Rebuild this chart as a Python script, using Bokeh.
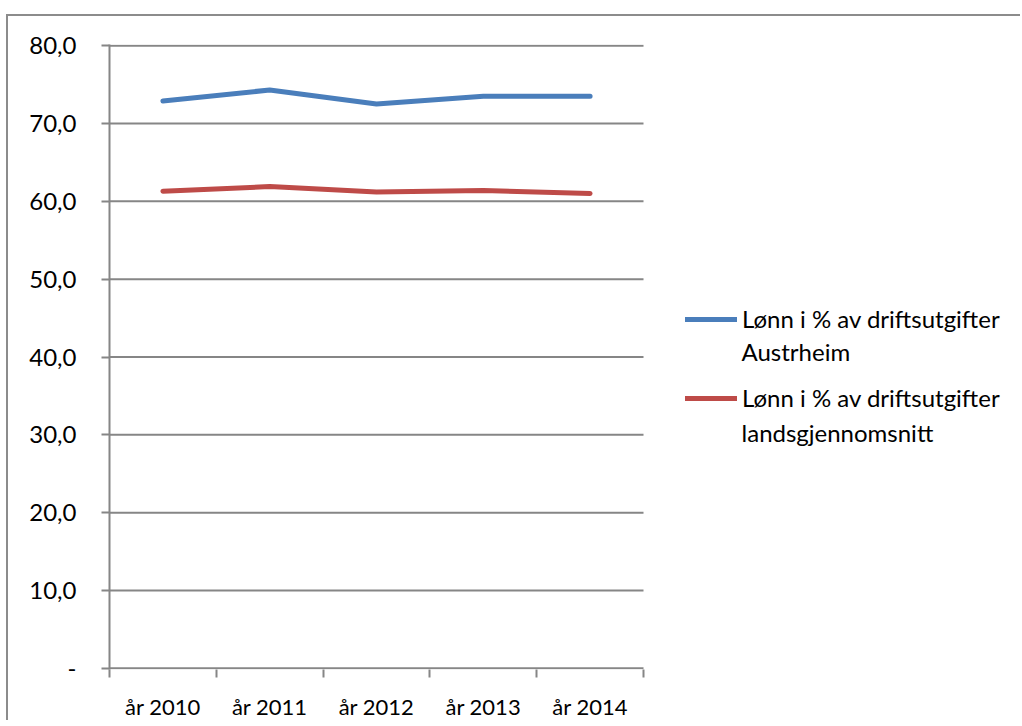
from bokeh.plotting import figure
from bokeh.models import (FixedTicker, Legend, LegendItem, Range1d, Label)
from bokeh.embed import file_html
from bokeh.resources import INLINE

years = ["år 2010", "år 2011", "år 2012", "år 2013", "år 2014"]
austrheim = [72.9, 74.3, 72.5, 73.5, 73.5]
landsgjennomsnitt = [61.3, 61.9, 61.2, 61.4, 61.0]
y_ticks = [0, 10, 20, 30, 40, 50, 60, 70, 80]
y_labels = ["-", "10,0", "20,0", "30,0", "40,0", "50,0", "60,0", "70,0", "80,0"]
legend_first = ["Lønn i % av driftsutgifter", "Lønn i % av driftsutgifter"]
legend_second = ["Austrheim", "landsgjennomsnitt"]

FONT = "Lato"
GRAY = "#868686"
n = len(years)
xs = [i + 0.5 for i in range(n)]

# frame spans the legend area too; data occupies x in [0, n]
p = figure(width=1014, height=706, output_backend="svg", toolbar_location=None,
           x_range=Range1d(0, n * 911 / 534), y_range=Range1d(-0.15, 80.15),
           min_border_left=101, min_border_top=28, min_border_bottom=53,
           min_border_right=2)
p.styles = {"border-left": "2px solid #8c8c8c", "border-top": "2px solid #8c8c8c",
            "margin-top": "14px", "margin-left": "6px"}
p.outline_line_color = None
p.background_fill_color = "white"

# x axis (ticks between categories, labels centred)
p.xaxis.ticker = FixedTicker(ticks=xs, minor_ticks=list(range(n + 1)))
p.xaxis.major_label_overrides = {x: y for x, y in zip(xs, years)}
p.xaxis.major_tick_line_color = None
p.xaxis.minor_tick_line_color = GRAY
p.xaxis.minor_tick_line_width = 2
p.xaxis.minor_tick_in = 0
p.xaxis.minor_tick_out = 8
p.xaxis.axis_line_color = None
p.xaxis.major_label_standoff = 15
p.xaxis.major_label_text_font = FONT
p.xaxis.major_label_text_font_size = "22px"
p.xaxis.major_label_text_color = "black"

# y axis
p.yaxis.ticker = FixedTicker(ticks=y_ticks, minor_ticks=[])
p.yaxis.major_label_overrides = {t: l for t, l in zip(y_ticks, y_labels)}
p.yaxis.major_tick_line_color = GRAY
p.yaxis.major_tick_line_width = 2
p.yaxis.major_tick_in = 0
p.yaxis.major_tick_out = 8
p.yaxis.axis_line_color = GRAY
p.yaxis.axis_line_width = 2
p.yaxis.major_label_standoff = 25
p.yaxis.major_label_text_font = FONT
p.yaxis.major_label_text_font_size = "24px"
p.yaxis.major_label_text_color = "black"

p.xgrid.grid_line_color = None
p.ygrid.grid_line_color = None

# horizontal gridlines only across the data area
p.segment(x0=[0] * len(y_ticks), x1=[n] * len(y_ticks), y0=y_ticks, y1=y_ticks,
          line_color=GRAY, line_width=2)

r1 = p.line(xs, austrheim, line_color="#4A7EBB", line_width=5, line_cap="round",
            line_join="round")
r2 = p.line(xs, landsgjennomsnitt, line_color="#BE4B48", line_width=5, line_cap="round",
            line_join="round")

legend = Legend(items=[LegendItem(label=legend_first[0], renderers=[r1]),
                       LegendItem(label=legend_first[1], renderers=[r2])],
                location=(576, 257), padding=0, margin=0, spacing=50,
                glyph_width=52, glyph_height=24, label_standoff=5,
                label_text_font=FONT, label_text_font_size="24px",
                label_text_color="black",
                border_line_color=None, background_fill_alpha=0)
p.add_layout(legend, "center")

# second lines of the legend labels
for txt, yv in zip(legend_second, [40.7, 30.3]):
    p.add_layout(Label(x=5.918, y=yv, text=txt, text_font=FONT, text_font_size="24px",
                       text_baseline="middle", text_color="black"))

open("out.html", "w").write(file_html(p, INLINE))
